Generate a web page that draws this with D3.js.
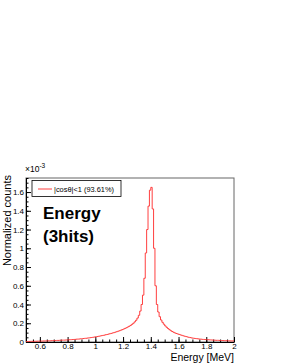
<!DOCTYPE html>
<html>
<head>
<meta charset="utf-8">
<script src="https://cdn.jsdelivr.net/npm/d3@7"></script>
<style>
  body { margin: 0; background: #fff; }
  text { font-family: "Liberation Sans", Arial, sans-serif; }
</style>
</head>
<body>
<div id="chart"></div>
<script>
// histogram: 0.01 MeV bins from 0.5 to 2.0 MeV, values in units of 1e-3
const binStart = 0.5,
  binWidth = 0.01;
const counts = [
  0.005, 0.006, 0.006, 0.007, 0.007, 0.007, 0.008, 0.008, 0.009, 0.009,
  0.010, 0.010, 0.011, 0.011, 0.012, 0.012, 0.013, 0.013, 0.014, 0.015,
  0.015, 0.016, 0.017, 0.017, 0.018, 0.019, 0.020, 0.020, 0.021, 0.022,
  0.023, 0.024, 0.025, 0.026, 0.027, 0.028, 0.030, 0.031, 0.032, 0.034,
  0.035, 0.037, 0.039, 0.040, 0.042, 0.044, 0.046, 0.048, 0.051, 0.053,
  0.056, 0.058, 0.061, 0.064, 0.067, 0.070, 0.073, 0.077, 0.080, 0.084,
  0.088, 0.092, 0.096, 0.100, 0.105, 0.110, 0.115, 0.120, 0.126, 0.132,
  0.138, 0.145, 0.152, 0.160, 0.168, 0.177, 0.188, 0.200, 0.215, 0.232,
  0.255, 0.285, 0.330, 0.400, 0.500, 0.680, 0.950, 1.200, 1.450, 1.620,
  1.650, 1.420, 1.000, 0.600, 0.400, 0.320, 0.270, 0.235, 0.210, 0.190,
  0.172, 0.157, 0.144, 0.132, 0.121, 0.112, 0.104, 0.097, 0.091, 0.086,
  0.081, 0.076, 0.071, 0.066, 0.062, 0.058, 0.054, 0.050, 0.047, 0.044,
  0.041, 0.039, 0.037, 0.035, 0.033, 0.031, 0.030, 0.028, 0.027, 0.026,
  0.025, 0.024, 0.023, 0.022, 0.021, 0.020, 0.019, 0.018, 0.018, 0.017,
  0.016, 0.016, 0.015, 0.015, 0.014, 0.013, 0.013, 0.012, 0.012, 0.011
];

const xTicks = [0.6, 0.8, 1, 1.2, 1.4, 1.6, 1.8, 2];
const yTicks = [0, 0.2, 0.4, 0.6, 0.8, 1, 1.2, 1.4, 1.6];
const xDomain = [0.5, 2];
const yDomain = [0, 1.75];
const legendLabel = "|cosθ|<1 (93.61%)";
const titleLines = ["Energy", "(3hits)"];

const width = 281,
  height = 363,
  margin = { top: 178, right: 47, bottom: 21, left: 26 };

const svg = d3.select("#chart").append("svg")
  .attr("width", width)
  .attr("height", height);

const x = d3.scaleLinear().domain(xDomain).range([margin.left, width - margin.right]);
const y = d3.scaleLinear().domain(yDomain).range([height - margin.bottom, margin.top]);

// frame
svg.append("rect")
  .attr("x", x(xDomain[0]))
  .attr("y", y(yDomain[1]))
  .attr("width", x(xDomain[1]) - x(xDomain[0]))
  .attr("height", y(yDomain[0]) - y(yDomain[1]))
  .attr("fill", "none")
  .attr("stroke", "#666");

// minor ticks every 0.05
const xMinor = d3.range(0, 31).map(i => 0.5 + i * 0.05);
const yMinor = d3.range(0, 36).map(i => i * 0.05);

svg.append("g")
  .attr("transform", `translate(0,${y(0)})`)
  .call(d3.axisBottom(x).tickValues(xMinor).tickSize(-2.5).tickSizeOuter(0).tickFormat(""))
  .call(g => g.select(".domain").remove());
svg.append("g")
  .attr("transform", `translate(${x(0.5)},0)`)
  .call(d3.axisLeft(y).tickValues(yMinor).tickSize(-2.5).tickSizeOuter(0).tickFormat(""))
  .call(g => g.select(".domain").remove());

const xAxis = svg.append("g")
  .attr("transform", `translate(0,${y(0)})`)
  .call(d3.axisBottom(x).tickValues(xTicks).tickSize(-5).tickSizeOuter(0).tickPadding(1)
    .tickFormat(d3.format("~g")));
const yAxis = svg.append("g")
  .attr("transform", `translate(${x(0.5)},0)`)
  .call(d3.axisLeft(y).tickValues(yTicks).tickSize(-5).tickSizeOuter(0).tickPadding(2)
    .tickFormat(d3.format("~g")));

[xAxis, yAxis].forEach(g => {
  g.selectAll("text").attr("font-size", 8).attr("font-family", "Liberation Sans, Arial, sans-serif").attr("fill", "#000");
  g.selectAll("line").attr("stroke", "#000");
  g.select(".domain").attr("stroke", "#000");
});

// histogram as steps
const points = counts.map((c, i) => [binStart + i * binWidth, c]);
points.push([binStart + counts.length * binWidth, counts[counts.length - 1]]);

const line = d3.line()
  .x(d => x(d[0]))
  .y(d => y(d[1]))
  .curve(d3.curveStepAfter);

svg.append("path")
  .datum(points)
  .attr("d", line)
  .attr("fill", "none")
  .attr("stroke", "#ff2a2a")
  .attr("stroke-width", 0.9);

// axis titles
svg.append("text")
  .attr("x", x(2))
  .attr("y", 361)
  .attr("text-anchor", "end")
  .attr("font-size", 10.5)
  .text("Energy [MeV]");

svg.append("text")
  .attr("transform", `translate(11,${y(yDomain[1]) - 3}) rotate(-90)`)
  .attr("text-anchor", "end")
  .attr("font-size", 11)
  .text("Normalized counts");

// exponent label
const expo = svg.append("text")
  .attr("x", 25)
  .attr("y", 172)
  .attr("font-size", 8.5);
expo.append("tspan").text("×10");
expo.append("tspan").attr("dy", -4).attr("font-size", 6.5).text("-3");

// legend
const legend = svg.append("g");
legend.append("rect")
  .attr("x", 32)
  .attr("y", 180.5)
  .attr("width", 89)
  .attr("height", 16)
  .attr("fill", "#fff")
  .attr("stroke", "#000")
  .attr("stroke-width", 0.8);
legend.append("line")
  .attr("x1", 38).attr("x2", 52)
  .attr("y1", 189).attr("y2", 189)
  .attr("stroke", "#ff2a2a")
  .attr("stroke-width", 0.9);
legend.append("text")
  .attr("x", 54)
  .attr("y", 191.5)
  .attr("font-size", 7.4)
  .text(legendLabel);

// title block
svg.append("g")
  .selectAll("text")
  .data(titleLines)
  .join("text")
  .attr("x", 43)
  .attr("y", (d, i) => 219 + i * 22.5)
  .attr("font-size", 17)
  .attr("font-weight", "bold")
  .text(d => d);
</script>
</body>
</html>
